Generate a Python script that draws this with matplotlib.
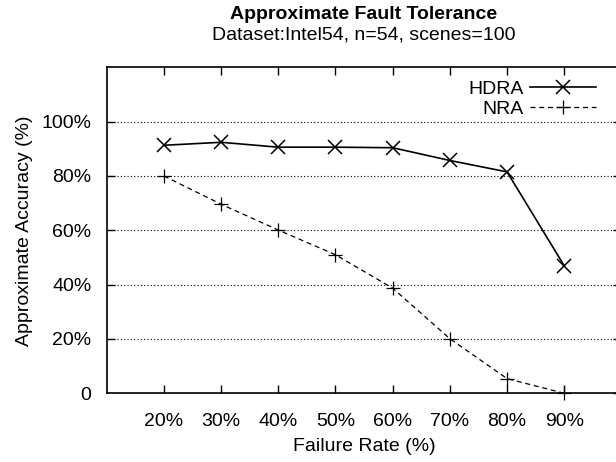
import matplotlib
matplotlib.use("Agg")
import matplotlib.pyplot as plt

plt.rcParams['font.family'] = ['Liberation Sans', 'DejaVu Sans']

# data
rates = ["20%", "30%", "40%", "50%", "60%", "70%", "80%", "90%"]
hdra = [91.3, 92.4, 90.6, 90.6, 90.4, 85.7, 81.5, 46.9]
nra = [80.0, 69.6, 60.1, 51.0, 38.7, 20.1, 5.4, 0.0]
ytick_vals = [0, 20, 40, 60, 80, 100]
ytick_labels = ["0", "20%", "40%", "60%", "80%", "100%"]

fs = 14

fig = plt.figure(figsize=(6.16, 4.62), dpi=100)
# axes run past the right edge of the picture, like the reference crop
ax = fig.add_axes([0.1732, 0.1487, 0.8357, 0.7056])

x = list(range(1, len(rates) + 1))

# grid
for v in ytick_vals[1:]:
    ax.axhline(v, color='black', lw=0.8, ls=(0, (1, 2)), zorder=1)

ax.plot(x, hdra, color='black', lw=1.2, marker='x', ms=9.5, mew=1.1,
        label='HDRA', clip_on=False, zorder=3)
ax.plot(x, nra, color='black', lw=0.9, ls=(0, (4, 3)), marker='+', ms=10,
        mew=0.9, label='NRA', clip_on=False, zorder=3)

ax.set_xlim(0, 9)
ax.set_ylim(0, 120)
ax.set_xticks(x)
ax.set_xticklabels(rates, fontsize=fs)
ax.set_yticks(ytick_vals)
ax.set_yticklabels(ytick_labels, fontsize=fs)
ax.tick_params(axis='x', direction='in', length=6, width=1, top=True, pad=14)
ax.tick_params(axis='y', direction='in', length=6, width=1, right=True, pad=11)
ax.yaxis.get_major_ticks()[0].tick1line.set_visible(False)
for s in ax.spines.values():
    s.set_linewidth(1.2)

ax.set_xlabel("Failure Rate (%)", fontsize=fs, labelpad=6)
ax.set_ylabel("Approximate Accuracy (%)", fontsize=fs, labelpad=6)

fig.text(0.591, 1 - 19 / 462, "Approximate Fault Tolerance", ha='center',
         va='baseline', fontsize=fs, fontweight='bold')
fig.text(0.591, 1 - 39 / 462, "Dataset:Intel54, n=54, scenes=100", ha='center',
         va='baseline', fontsize=fs)

fig.legend(loc='upper right', bbox_to_anchor=(596 / 616, 1 - 80 / 462),
           frameon=False, markerfirst=False, fontsize=fs, handlelength=3.4,
           handletextpad=0.3, labelspacing=0.15, borderpad=0, borderaxespad=0)

fig.savefig("out.png", dpi=100)
